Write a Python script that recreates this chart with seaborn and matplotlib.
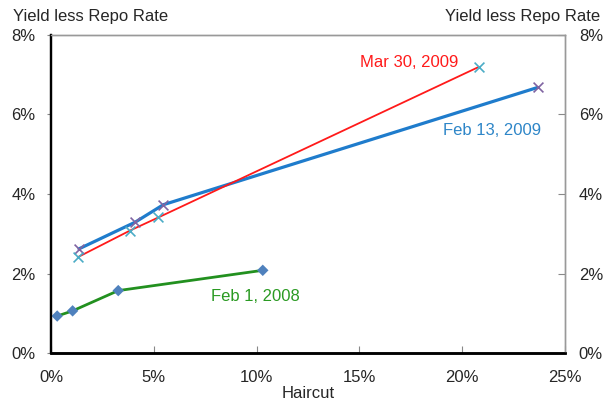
import pandas as pd
import matplotlib.pyplot as plt
import seaborn as sns
from matplotlib.ticker import FuncFormatter

# haircut (%) and yield less repo rate (%)
feb08_x = [0.3, 1.05, 3.27, 10.3]
feb08_y = [0.93, 1.06, 1.57, 2.08]
feb09_x = [1.36, 4.09, 5.46, 23.67]
feb09_y = [2.62, 3.29, 3.73, 6.68]
mar09_x = [1.30, 3.84, 5.22, 20.82]
mar09_y = [2.41, 3.08, 3.41, 7.20]

names = ["Feb 1, 2008", "Feb 13, 2009", "Mar 30, 2009"]
x_ticks = [0, 5, 10, 15, 20, 25]
y_ticks = [0, 2, 4, 6, 8]

line_colors = {"Feb 1, 2008": "#22901f", "Feb 13, 2009": "#1f7ccc", "Mar 30, 2009": "#ff1a1a"}
marker_colors = {"Feb 1, 2008": "#4f81bd", "Feb 13, 2009": "#8064a2", "Mar 30, 2009": "#4bacc6"}
line_widths = {"Feb 1, 2008": 2.0, "Feb 13, 2009": 2.3, "Mar 30, 2009": 1.3}

df = pd.concat([
    pd.DataFrame({"Haircut": feb08_x, "Spread": feb08_y, "Date": names[0]}),
    pd.DataFrame({"Haircut": feb09_x, "Spread": feb09_y, "Date": names[1]}),
    pd.DataFrame({"Haircut": mar09_x, "Spread": mar09_y, "Date": names[2]}),
])

sns.set_style("white")
plt.rcParams["font.family"] = ["Liberation Sans", "DejaVu Sans"]

fig = plt.figure(figsize=(6.06, 4), dpi=100)
ax = fig.add_axes([0.0842, 0.1175, 0.8481, 0.795])

for name in names:
    sub = df[df["Date"] == name]
    sns.lineplot(data=sub, x="Haircut", y="Spread", color=line_colors[name],
                 linewidth=line_widths[name], sort=False, ax=ax, legend=False)
    if name == "Feb 1, 2008":
        sns.scatterplot(data=sub, x="Haircut", y="Spread", color=marker_colors[name],
                        marker="D", s=34, edgecolor="none", ax=ax, legend=False, zorder=5)
    else:
        sns.scatterplot(data=sub, x="Haircut", y="Spread", color=marker_colors[name],
                        marker="x", s=50, linewidth=1.2, ax=ax, legend=False, zorder=5)

ax.set_xlim(0, 25)
ax.set_ylim(0, 8)
ax.set_xticks(x_ticks)
ax.set_yticks(y_ticks)
pct = FuncFormatter(lambda v, p: f"{v:.0f}%")
ax.xaxis.set_major_formatter(pct)
ax.yaxis.set_major_formatter(pct)
ax.set_xlabel("")
ax.set_ylabel("")

ax.tick_params(axis="x", direction="in", length=5, width=0.8, color="#888888",
               labelsize=12, pad=12, bottom=True)
ax.tick_params(axis="y", direction="out", length=3, width=0.8, color="#888888",
               labelsize=12, pad=8, left=True)

ax2 = ax.twinx()
ax2.set_ylim(0, 8)
ax2.set_yticks(y_ticks)
ax2.yaxis.set_major_formatter(pct)
ax2.tick_params(axis="y", direction="in", length=5, width=0.8, color="#888888",
                labelsize=12, pad=10, right=True)

for a in (ax, ax2):
    a.spines["left"].set_color("black")
    a.spines["left"].set_linewidth(1.6)
    a.spines["bottom"].set_color("black")
    a.spines["bottom"].set_linewidth(1.8)
    a.spines["top"].set_color("#999999")
    a.spines["top"].set_linewidth(1.0)
    a.spines["right"].set_color("#999999")
    a.spines["right"].set_linewidth(1.0)

ax.text(17.4, 7.30, "Mar 30, 2009", color="#ff1a1a", fontsize=12, ha="center", va="center")
ax.text(21.45, 5.61, "Feb 13, 2009", color="#2e86c8", fontsize=12, ha="center", va="center")
ax.text(9.95, 1.43, "Feb 1, 2008", color="#2a9a22", fontsize=12, ha="center", va="center")

fig.text(0.021, 0.9475, "Yield less Repo Rate", fontsize=12, ha="left", va="baseline")
fig.text(0.990, 0.9475, "Yield less Repo Rate", fontsize=12, ha="right", va="baseline")
fig.text(0.508, 0.005, "Haircut", fontsize=12, ha="center", va="baseline")

fig.savefig("out.png", dpi=100)
